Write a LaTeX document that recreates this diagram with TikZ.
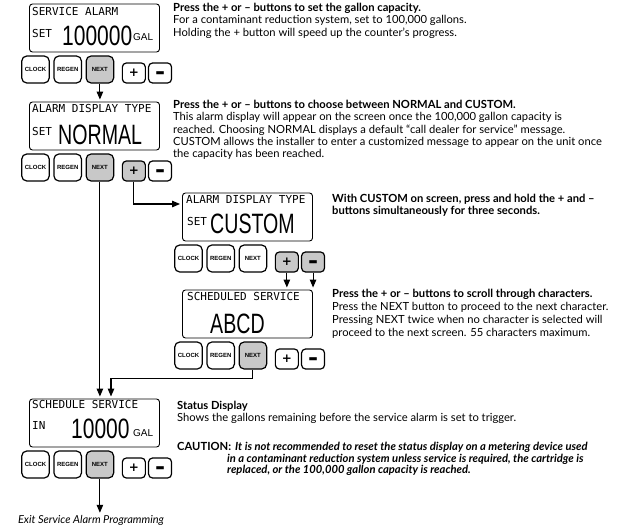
\documentclass[tikz,border=0pt]{standalone}
\usepackage{fontspec}
\setmainfont{Lato}
\newfontfamily\lcdmono{DejaVu Sans Mono}
\newfontfamily\lcdsans{Liberation Sans}
\newfontfamily\keysans{DejaVu Sans}
\usetikzlibrary{arrows.meta,positioning}
\definecolor{keygray}{RGB}{200,200,200}
\newcommand{\lcdbig}[2][0.7]{\scalebox{#1}[1]{\lcdsans\fontsize{28}{28}\selectfont #2}}
\newcommand{\keyminus}{\smash{\raisebox{-8.7pt}{\scalebox{1}[2.2]{−}}}}

\begin{document}
\begin{tikzpicture}[x=1pt,y=-1pt,
        lcd/.style={draw,line width=0.9pt,rounded corners=3pt,minimum width=130pt,minimum height=48pt,inner sep=0pt},
        key/.style={draw,line width=1.2pt,rounded corners=5pt,minimum width=27.5pt,minimum height=27pt,inner sep=0pt,
          font=\lcdsans\bfseries\fontsize{6}{6}\selectfont},
        keyon/.style={key,fill=keygray},
        pm/.style={draw,line width=1.2pt,rounded corners=4pt,minimum width=23pt,minimum height=20pt,inner sep=0pt,
          font=\keysans\bfseries\fontsize{12}{12}\selectfont},
        pmon/.style={pm,fill=keygray},
        lcdtitle/.style={anchor=base west,inner sep=0pt,font=\lcdmono\fontsize{11}{11}\selectfont},
        lcdnum/.style={anchor=base west,inner sep=0pt},
        lcdunit/.style={anchor=base west,inner sep=0pt,font=\lcdsans\fontsize{10}{10}\selectfont},
        note/.style={anchor=north west,inner sep=0pt,align=left,font=\fontsize{11.2}{12.3}\selectfont},
        arrow/.style={-{Triangle[length=8pt,width=6.5pt]},line width=1.1pt,shorten >=2pt}]
  \useasboundingbox (0,0) rectangle (642,530);

  % service alarm
  \node[lcd] (p1lcd) at (94.5,28) {};
  \node[lcdtitle] (p1title) at (32,15) {SERVICE ALARM};
  \node[lcdtitle] (p1set) at (32,37) {SET};
  \node[lcdnum] (p1value) at (62,45) {\lcdbig[0.75]{100000}};
  \node[lcdunit] (p1unit) at (133,40) {GAL};
  \node[key] (p1clock) at (35.5,69.5) {CLOCK};
  \node[key,right=3.5pt of p1clock] (p1regen) {REGEN};
  \node[keyon,right=3.5pt of p1regen] (p1next) {NEXT};
  \node[pm,right=7.5pt of p1next.south east,anchor=south west] (p1plus) {+};
  \node[pm,right=2pt of p1plus] (p1minus) {\keyminus};

  % alarm display type: normal
  \begin{scope}[shift={(0,98)}]
    \node[lcd] (p2lcd) at (94.5,28) {};
    \node[lcdtitle] (p2title) at (32,14) {ALARM DISPLAY TYPE};
    \node[lcdtitle] (p2set) at (32,37) {SET};
    \node[lcdnum] (p2value) at (58,46) {\lcdbig{NORMAL}};
    \node[key] (p2clock) at (35.5,69.5) {CLOCK};
    \node[key,right=3.5pt of p2clock] (p2regen) {REGEN};
    \node[keyon,right=3.5pt of p2regen] (p2next) {NEXT};
    \node[pmon,right=7.5pt of p2next.south east,anchor=south west] (p2plus) {+};
    \node[pm,right=2pt of p2plus] (p2minus) {\keyminus};
  \end{scope}

  % alarm display type: custom
  \begin{scope}[shift={(153,189)}]
    \node[lcd] (p3lcd) at (94.5,28) {};
    \node[lcdtitle] (p3title) at (33,14) {ALARM DISPLAY TYPE};
    \node[lcdtitle] (p3set) at (34,36) {SET};
    \node[lcdnum] (p3value) at (57,44) {\lcdbig{CUSTOM}};
    \node[key] (p3clock) at (35.5,69.5) {CLOCK};
    \node[key,right=3.5pt of p3clock] (p3regen) {REGEN};
    \node[key,right=3.5pt of p3regen] (p3next) {NEXT};
    \node[pmon,right=7.5pt of p3next.south east,anchor=south west] (p3plus) {+};
    \node[pmon,right=2pt of p3plus] (p3minus) {\keyminus};
  \end{scope}

  % scheduled service
  \begin{scope}[shift={(153,286)}]
    \node[lcd] (p4lcd) at (94.5,28) {};
    \node[lcdtitle] (p4title) at (34,14) {SCHEDULED SERVICE};
    \node[lcdnum] (p4value) at (57,47) {\lcdbig{ABCD}};
    \node[key] (p4clock) at (35.5,69.5) {CLOCK};
    \node[key,right=3.5pt of p4clock] (p4regen) {REGEN};
    \node[keyon,right=3.5pt of p4regen] (p4next) {NEXT};
    \node[pm,right=7.5pt of p4next.south east,anchor=south west] (p4plus) {+};
    \node[pm,right=2pt of p4plus] (p4minus) {\keyminus};
  \end{scope}

  % schedule service in
  \begin{scope}[shift={(0,395)}]
    \node[lcd] (p5lcd) at (94.5,28) {};
    \node[lcdtitle] (p5title) at (32,13) {SCHEDULE SERVICE};
    \node[lcdtitle] (p5in) at (32,34) {IN};
    \node[lcdnum] (p5value) at (71,43) {\lcdbig[0.75]{10000}};
    \node[lcdunit] (p5unit) at (133,41) {GAL};
    \node[key] (p5clock) at (35.5,69.5) {CLOCK};
    \node[key,right=3.5pt of p5clock] (p5regen) {REGEN};
    \node[keyon,right=3.5pt of p5regen] (p5next) {NEXT};
    \node[pm,right=7.5pt of p5next.south east,anchor=south west] (p5plus) {+};
    \node[pm,right=2pt of p5plus] (p5minus) {\keyminus};
  \end{scope}

  \node[inner sep=0pt,font=\itshape\fontsize{11}{12}\selectfont] (exit) at (91,520) {Exit Service Alarm Programming};

  % notes
  \node[note] (n1) at (173,3) {\textbf{Press the + or – buttons to set the gallon capacity.}\\
    For a contaminant reduction system, set to 100,000 gallons.\\
    Holding the + button will speed up the counter’s progress.};
  \node[note] (n2) at (173,100) {\textbf{Press the + or – buttons to choose between NORMAL and CUSTOM.}\\
    This alarm display will appear on the screen once the 100,000 gallon capacity is\\
    reached. Choosing NORMAL displays a default “call dealer for service” message.\\
    CUSTOM allows the installer to enter a customized message to appear on the unit once\\
    the capacity has been reached.};
  \node[note,font=\bfseries\fontsize{11.2}{12.3}\selectfont] (n3) at (332,194) {With CUSTOM on screen, press and hold the + and –\\
    buttons simultaneously for three seconds.};
  \node[note,font=\fontsize{11.2}{13}\selectfont] (n4) at (332,289) {\textbf{Press the + or – buttons to scroll through characters.}\\
    Press the NEXT button to proceed to the next character.\\
    Pressing NEXT twice when no character is selected will\\
    proceed to the next screen. 55 characters maximum.};
  \node[note] (n5) at (177,401) {\textbf{Status Display}\\
    Shows the gallons remaining before the service alarm is set to trigger.};
  \node[note,font=\bfseries\fontsize{11.2}{12.3}\selectfont] (caution) at (177,442) {CAUTION:};
  \node[note,font=\bfseries\itshape\fontsize{11.2}{11.6}\selectfont] (n6) at (227,442) {\hspace*{8pt}It is not recommended to reset the status display on a metering device used\\
    in a contaminant reduction system unless service is required, the cartridge is\\
    replaced, or the 100,000 gallon capacity is reached.};

  % connectors
  \draw[arrow] (p1next.south) -- (p1next.south |- p2lcd.north);
  \draw[arrow] (p2next.south) -- (p2next.south |- p5lcd.north);
  \draw[arrow] (p2plus.south) |- ([yshift=13pt]p3lcd.west);
  \draw[arrow] (p3plus.south) -- (p3plus.south |- p4lcd.north);
  \draw[arrow] (p3minus.south) -- (p3minus.south |- p4lcd.north);
  \draw[arrow] (p4next.south) -- ++(0,9) -| ([xshift=16.5pt]p5lcd.north);
  \draw[arrow] (p5next.south) -- (p5next.south |- exit.north);
\end{tikzpicture}
\end{document}
